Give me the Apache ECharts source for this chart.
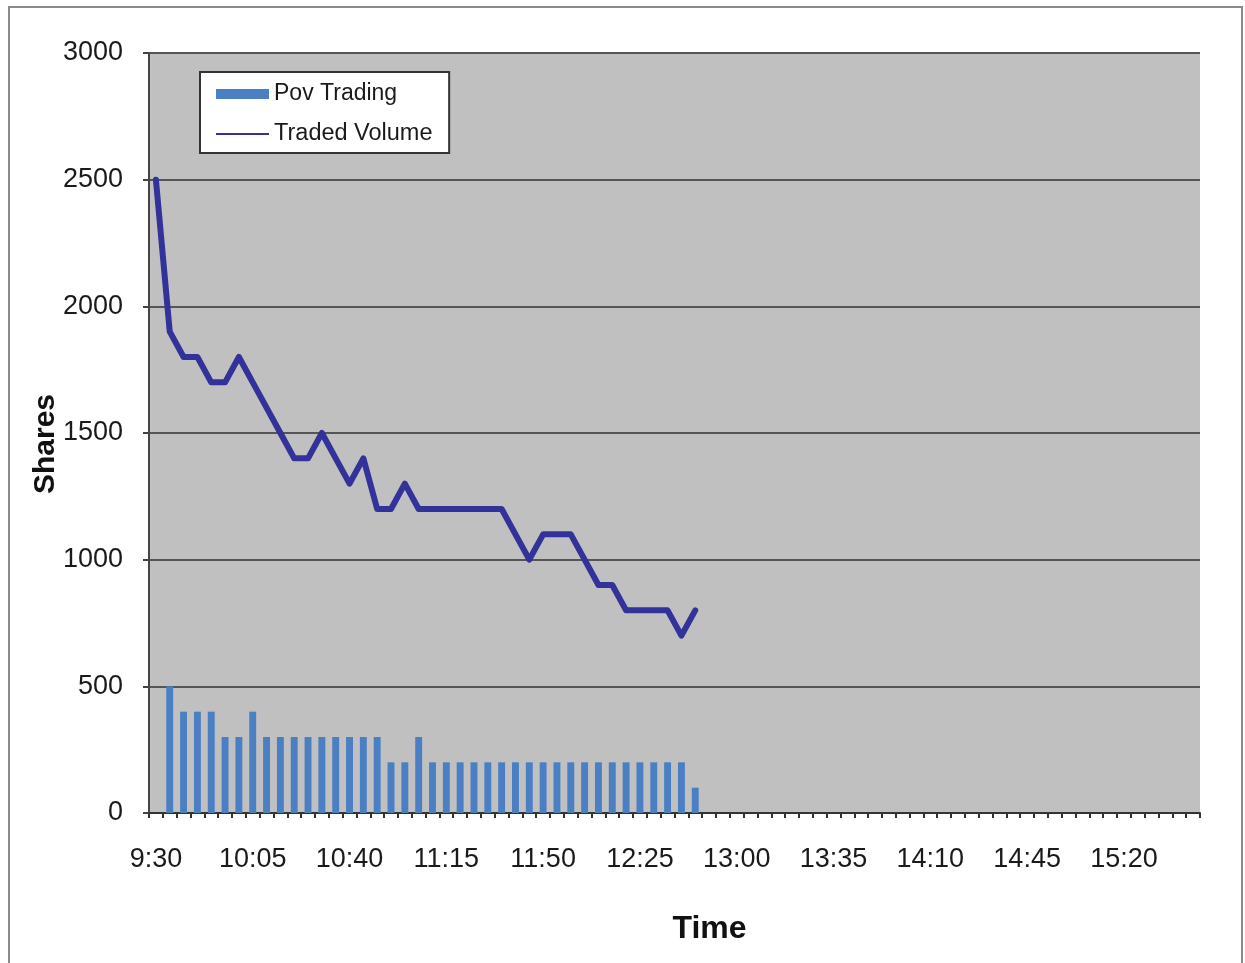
<!DOCTYPE html>
<html>
<head>
<meta charset="utf-8">
<title>Pov Trading vs Traded Volume</title>
<script src="https://cdn.jsdelivr.net/npm/echarts@6/dist/echarts.min.js"></script>
<style>
  html, body { margin: 0; padding: 0; background: #ffffff; }
  #chart { width: 1245px; height: 963px; }
</style>
</head>
<body>
<div id="chart"></div>
<script>
// Five-minute buckets over the trading session
const timeLabels = [
  '9:30','9:35','9:40','9:45','9:50','9:55','10:00','10:05','10:10','10:15','10:20','10:25',
  '10:30','10:35','10:40','10:45','10:50','10:55','11:00','11:05','11:10','11:15','11:20','11:25',
  '11:30','11:35','11:40','11:45','11:50','11:55','12:00','12:05','12:10','12:15','12:20','12:25',
  '12:30','12:35','12:40','12:45','12:50','12:55','13:00','13:05','13:10','13:15','13:20','13:25',
  '13:30','13:35','13:40','13:45','13:50','13:55','14:00','14:05','14:10','14:15','14:20','14:25',
  '14:30','14:35','14:40','14:45','14:50','14:55','15:00','15:05','15:10','15:15','15:20','15:25',
  '15:30','15:35','15:40','15:45'
];

// Shares executed by the percentage-of-volume strategy in each bucket
const povTrading = [
  null, 500, 400, 400, 400, 300, 300, 400, 300, 300, 300, 300,
  300, 300, 300, 300, 300, 200, 200, 300, 200, 200, 200, 200,
  200, 200, 200, 200, 200, 200, 200, 200, 200, 200, 200, 200,
  200, 200, 200, 100
];

// Market volume traded in each bucket
const tradedVolume = [
  2500, 1900, 1800, 1800, 1700, 1700, 1800, 1700, 1600, 1500, 1400, 1400,
  1500, 1400, 1300, 1400, 1200, 1200, 1300, 1200, 1200, 1200, 1200, 1200,
  1200, 1200, 1100, 1000, 1100, 1100, 1100, 1000, 900, 900, 800, 800,
  800, 800, 700, 800
];

const FONT = '"Liberation Sans", Arial, Helvetica, sans-serif';
const TEXT_COLOR = '#1a1a1a';
const BAR_COLOR = '#4a7fc4';
const LINE_COLOR = '#32329a';

const chart = echarts.init(document.getElementById('chart'), null, { renderer: 'canvas' });

chart.setOption({
  backgroundColor: '#ffffff',
  animation: false,
  textStyle: { fontFamily: FONT },
  graphic: [{
    type: 'rect',
    silent: true,
    z: -10,
    shape: { x: 9, y: 7, width: 1233, height: 975 },
    style: { fill: 'none', stroke: '#8a8a8a', lineWidth: 2 }
  }],
  legend: [
    {
      data: [{ name: 'Pov Trading', icon: 'rect' }],
      left: 200,
      top: 72,
      orient: 'vertical',
      itemWidth: 53,
      itemHeight: 10,
      itemGap: 0,
      padding: [10, 52, 47, 16],
      backgroundColor: '#ffffff',
      borderColor: '#333333',
      borderWidth: 2,
      textStyle: { fontSize: 23, color: TEXT_COLOR, fontFamily: FONT, lineHeight: 24 }
    },
    {
      data: [{ name: 'Traded Volume', icon: 'rect' }],
      left: 216,
      top: 122,
      orient: 'vertical',
      itemWidth: 53,
      itemHeight: 2,
      padding: 0,
      textStyle: { fontSize: 23.5, color: TEXT_COLOR, fontFamily: FONT, lineHeight: 24 }
    }
  ],
  grid: {
    left: 149,
    right: 45,
    top: 53,
    bottom: 150,
    show: true,
    backgroundColor: '#c0c0c0',
    borderWidth: 0,
    containLabel: false,
    outerBoundsMode: 'none'
  },
  xAxis: {
    type: 'category',
    data: timeLabels,
    boundaryGap: true,
    name: 'Time',
    nameLocation: 'middle',
    nameGap: 100,
    nameMoveOverlap: false,
    nameTextStyle: { fontSize: 32, fontWeight: 'bold', color: '#111111', fontFamily: FONT, padding: [0, 0, 0, 70] },
    axisLine: { show: true, lineStyle: { color: '#333333', width: 2 } },
    axisTick: { show: true, interval: 0, length: 5, alignWithLabel: false, lineStyle: { color: '#333333', width: 2 } },
    axisLabel: { interval: 6, fontSize: 27, color: TEXT_COLOR, margin: 33, fontFamily: FONT },
    splitLine: { show: false }
  },
  yAxis: {
    type: 'value',
    min: 0,
    max: 3000,
    interval: 500,
    name: 'Shares',
    nameLocation: 'middle',
    nameGap: 88,
    nameRotate: 90,
    nameMoveOverlap: false,
    nameTextStyle: { fontSize: 30, fontWeight: 'bold', color: '#111111', fontFamily: FONT, padding: [0, 22, 0, 0] },
    axisLine: { show: true, lineStyle: { color: '#444444', width: 2 } },
    axisTick: { show: true, length: 6, lineStyle: { color: '#444444', width: 2 } },
    axisLabel: {
      fontSize: 27,
      color: TEXT_COLOR,
      margin: 26,
      fontFamily: FONT,
      formatter: (v) => String(v)
    },
    splitLine: { show: true, lineStyle: { color: '#555555', width: 2 } }
  },
  series: [
    {
      name: 'Pov Trading',
      type: 'bar',
      data: povTrading,
      barWidth: '50%',
      itemStyle: { color: BAR_COLOR },
      z: 2
    },
    {
      name: 'Traded Volume',
      type: 'line',
      data: tradedVolume,
      symbol: 'none',
      showSymbol: false,
      lineStyle: { color: LINE_COLOR, width: 6, join: 'round', cap: 'round' },
      itemStyle: { color: LINE_COLOR },
      z: 3
    }
  ]
});
</script>
</body>
</html>
